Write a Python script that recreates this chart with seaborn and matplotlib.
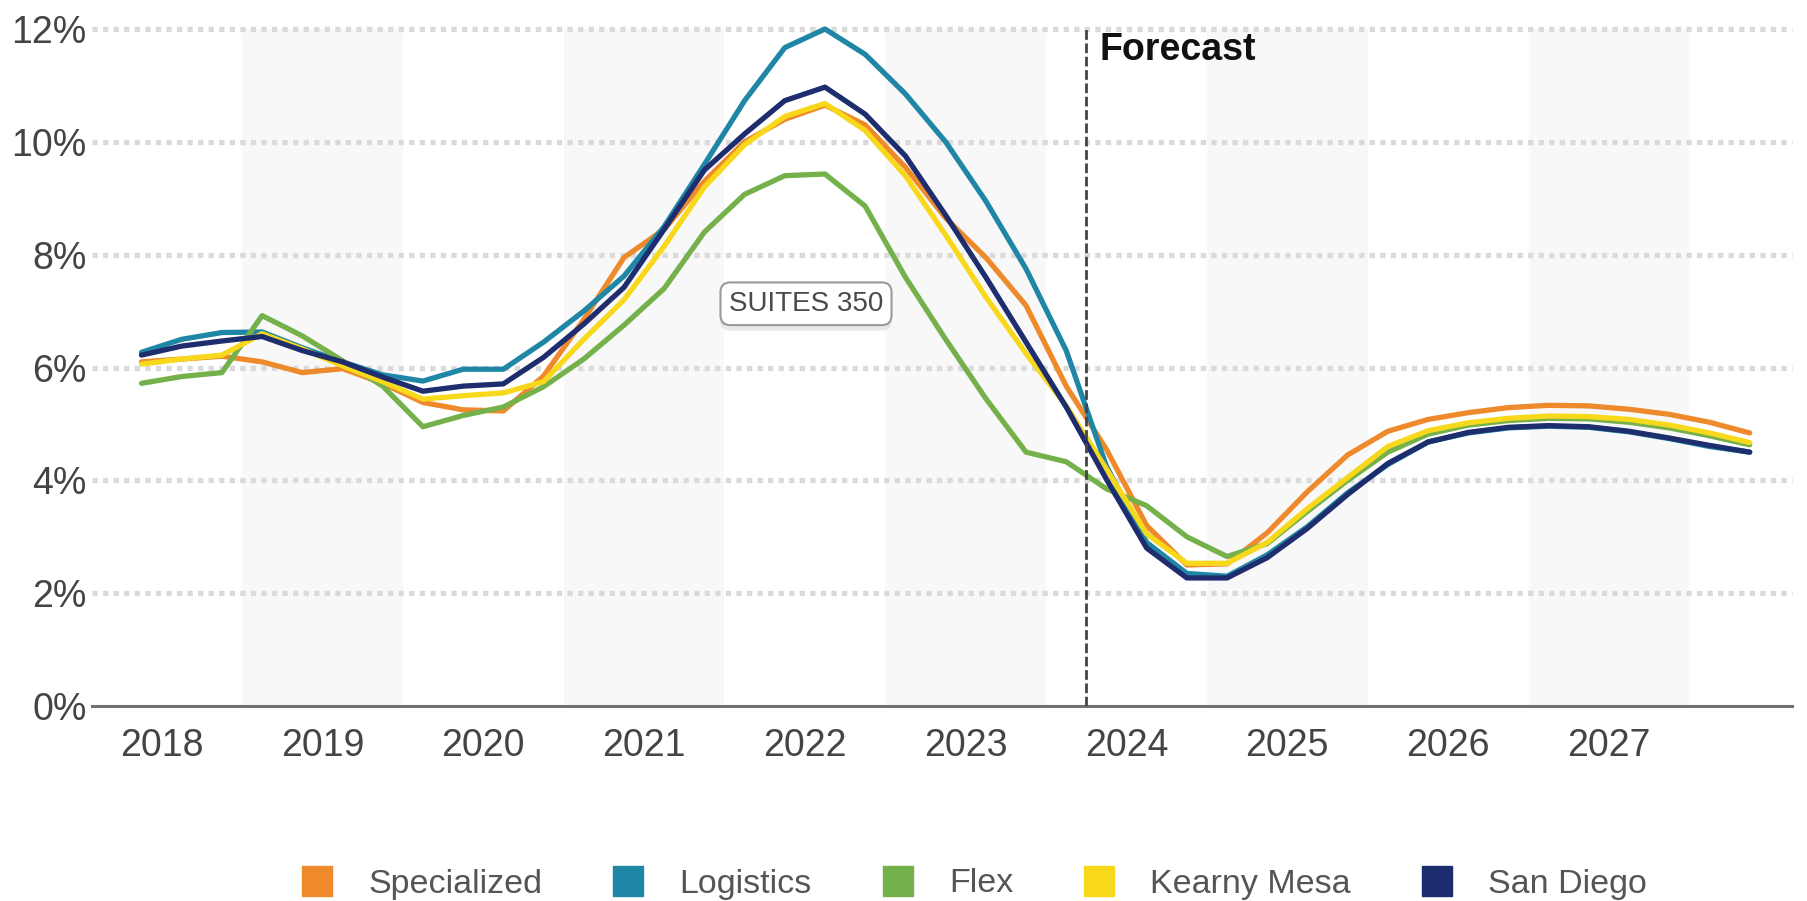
import numpy as np
import pandas as pd
import seaborn as sns
import matplotlib.pyplot as plt
import matplotlib.patheffects as pe
from matplotlib.lines import Line2D
from matplotlib.ticker import FixedLocator, FuncFormatter

# quarterly data, 2018 Q2 .. 2028 Q2 (plotted at mid-quarter)
quarters = pd.period_range('2018Q2', '2028Q2', freq='Q')

specialized = [6.10, 6.15, 6.20, 6.10, 5.91, 5.98, 5.72, 5.38, 5.25, 5.23,
               5.85, 6.85, 7.95, 8.45, 9.30, 10.00, 10.40, 10.65, 10.30, 9.55,
               8.65, 7.95, 7.10, 5.67, 4.55, 3.20, 2.50, 2.52, 3.07, 3.80,
               4.45, 4.87, 5.08, 5.20, 5.29, 5.33, 5.32, 5.26, 5.17, 5.03, 4.84]
logistics = [6.27, 6.50, 6.62, 6.63, 6.35, 6.10, 5.87, 5.76, 5.97, 5.97,
             6.45, 7.00, 7.62, 8.50, 9.60, 10.73, 11.67, 12.00, 11.55, 10.85,
             10.00, 8.95, 7.75, 6.30, 4.25, 2.90, 2.35, 2.30, 2.68, 3.18,
             3.78, 4.28, 4.68, 4.84, 4.93, 4.96, 4.94, 4.86, 4.74, 4.60, 4.50]
flex = [5.72, 5.84, 5.91, 6.92, 6.56, 6.12, 5.67, 4.95, 5.15, 5.30,
        5.66, 6.15, 6.75, 7.40, 8.40, 9.07, 9.40, 9.43, 8.86, 7.60,
        6.50, 5.45, 4.50, 4.33, 3.85, 3.55, 3.00, 2.65, 2.88, 3.45,
        4.00, 4.50, 4.82, 4.98, 5.06, 5.10, 5.09, 5.03, 4.93, 4.79, 4.63]
kearny_mesa = [6.06, 6.15, 6.22, 6.60, 6.33, 6.03, 5.75, 5.44, 5.50, 5.55,
               5.75, 6.50, 7.20, 8.15, 9.20, 9.95, 10.45, 10.68, 10.20, 9.40,
               8.35, 7.25, 6.25, 5.32, 4.20, 3.05, 2.53, 2.53, 2.90, 3.50,
               4.05, 4.60, 4.88, 5.02, 5.10, 5.14, 5.13, 5.08, 4.98, 4.84, 4.67]
san_diego = [6.22, 6.38, 6.47, 6.55, 6.30, 6.10, 5.83, 5.58, 5.67, 5.71,
             6.18, 6.77, 7.42, 8.45, 9.50, 10.14, 10.73, 10.97, 10.49, 9.75,
             8.70, 7.60, 6.45, 5.30, 4.02, 2.80, 2.27, 2.27, 2.63, 3.15,
             3.75, 4.30, 4.68, 4.85, 4.94, 4.97, 4.95, 4.87, 4.75, 4.62, 4.50]

series_names = ['Specialized', 'Logistics', 'Flex', 'Kearny Mesa', 'San Diego']
colors = ['#EE8A2C', '#2086A6', '#74B14B', '#F8D81A', '#1E2D6D']
year_labels = list(range(2018, 2028))
shaded_years = [2019, 2021, 2023, 2025, 2027]
forecast_start = 2024.25

x = quarters.year + (quarters.quarter - 1) / 4 + 0.125
df = pd.DataFrame({'x': x, 'Specialized': specialized, 'Logistics': logistics,
                   'Flex': flex, 'Kearny Mesa': kearny_mesa, 'San Diego': san_diego})
df = df.melt(id_vars='x', var_name='series', value_name='rate')

sns.set_style('white')
plt.rcParams['font.family'] = ['Liberation Sans', 'DejaVu Sans']

fig = plt.figure(figsize=(18.07, 9.01), dpi=100)
ax = fig.add_axes([0.0509, 0.2164, 0.9408, 0.7514])

# alternating year bands
for yr in shaded_years:
    ax.axvspan(yr, yr + 1, color='#f8f8f8', lw=0, zorder=0)

# dotted gridlines
for v in range(2, 13, 2):
    ax.axhline(v, color='#dadada', lw=1.0, ls=(0, (1, 1)), zorder=1)

sns.lineplot(data=df, x='x', y='rate', hue='series', hue_order=series_names,
             palette=colors, linewidth=3.8, legend=False, errorbar=None, ax=ax, zorder=3)
for line in ax.lines:
    line.set_clip_on(False)
    line.set_linewidth(3.8)
    line.set_solid_joinstyle('round')

ax.set_xlim(2018.067, 2028.638)
ax.set_ylim(0, 12)
ax.set_xlabel('')
ax.set_ylabel('')

for s in ['top', 'right', 'left']:
    ax.spines[s].set_visible(False)
ax.spines['bottom'].set_color('#707070')
ax.spines['bottom'].set_linewidth(2.2)

# y axis
ax.set_yticks(range(0, 13, 2))
ax.set_yticklabels([f'{v}%' for v in range(0, 13, 2)])
ax.tick_params(axis='y', length=0, pad=4, labelsize=27, labelcolor='#444444')

# x axis: year boundaries (major), quarter boundaries (minor), year labels mid-year
ax.xaxis.set_major_locator(FixedLocator(list(range(2019, 2029))))
ax.xaxis.set_major_formatter(FuncFormatter(lambda v, p: ''))
qticks = [q for q in np.arange(2018.25, 2028.76, 0.25) if abs(q - round(q)) > 1e-6]
ax.xaxis.set_minor_locator(FixedLocator(qticks))


def year_fmt(v, p):
    yr = int(np.floor(v))
    if abs(v - yr - 0.5) < 1e-6 and yr in year_labels:
        return str(yr)
    return ''


ax.xaxis.set_minor_formatter(FuncFormatter(year_fmt))
ax.tick_params(axis='x', which='major', direction='inout', length=21, width=2.2,
               color='#707070')
ax.tick_params(axis='x', which='minor', direction='in', length=9.5, width=1.5,
               color='#707070', pad=16, labelsize=27, labelcolor='#444444')

# forecast marker
ax.axvline(forecast_start, color='#444444', lw=2, ls=(0, (3.5, 1.3)), zorder=4)
ax.text(forecast_start + 0.08, 11.62, 'Forecast', fontsize=27, fontweight='bold',
        ha='left', va='center', color='#111111')

# tooltip-like label
t = ax.text(2022.507, 7.13, 'SUITES 350', ha='center', va='center', fontsize=20,
            color='#4a4a4a',
            bbox=dict(boxstyle='round,pad=0.3,rounding_size=0.35', fc='white',
                      ec='#9a9a9a', lw=1.5), zorder=6)
t.get_bbox_patch().set_path_effects([pe.SimplePatchShadow(offset=(0, -4), alpha=0.12),
                                     pe.Normal()])

# legend
handles = [Line2D([], [], marker='s', ls='', markersize=21.5, markerfacecolor=c,
                  markeredgecolor=c) for c in colors]
fig.legend(handles, series_names, loc='center', bbox_to_anchor=(0.5388, 1 - 884 / 901),
           ncol=5, frameon=False, fontsize=24.5, handlelength=1.0, handletextpad=1.0,
           columnspacing=2.03, labelcolor='#555555')

fig.savefig('out.png', dpi=100, facecolor='white')
